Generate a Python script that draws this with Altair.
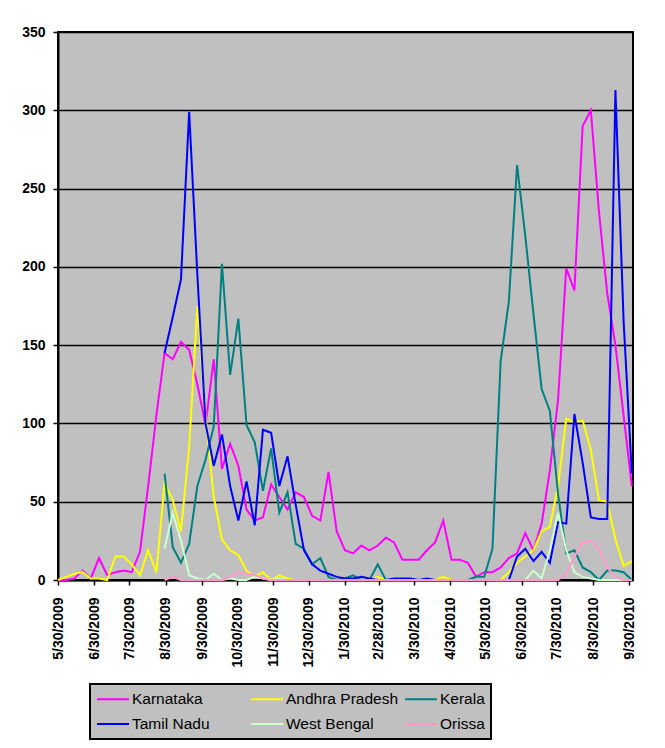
import altair as alt
import pandas as pd

# ---- data (weekly points) ----
START = "2009-05-30"
N_WEEKS = 71

STATES = ["Karnataka", "Andhra Pradesh", "Kerala", "Tamil Nadu", "West Bengal", "Orissa"]
COLORS = ["#FF00FF", "#FFFF00", "#008080", "#0000FF", "#CCFFCC", "#FF99CC"]

KARNATAKA = [0, 0, 1, 6, 1, 14, 3, 5, 6, 5,
             18, 60, 105, 145, 141, 152, 147, 125, 99, 141,
             71, 87, 73, 45, 38, 40, 61, 53, 45, 56,
             53, 41, 38, 69, 31, 19, 17, 22, 19, 22,
             27, 24, 13, 13, 13, 19, 24, 38, 13, 13,
             11, 2, 5, 5, 8, 14, 17, 30, 19, 36,
             70, 115, 199, 185, 290, 300, 235, 183, 150, 105,
             60]

ANDHRA = [0, 2, 4, 5, 1, 1, 0, 15, 15, 10,
          3, 19, 5, 62, 51, 31, 85, 175, 105, 53,
          26, 19, 16, 6, 2, 5, 0, 3, 1, 0,
          0, 0, 0, 0, 0, 0, 0, 0, 0, 2,
          0, 0, 0, 0, 0, 0, 0, 2, 0, 0,
          0, 0, 0, 0, 0, 5, 11, 15, 19, 31,
          34, 60, 103, 101, 102, 83, 51, 50, 26, 9,
          12]

KERALA = [None] * 13 + [
          68, 21, 11, 23, 60, 77, 98,
          202, 131, 167, 99, 88, 57, 84, 43, 56, 23,
          20, 10, 14, 2, 0, 1, 3, 0, 0, 10,
          0, 0, 0, 0, 0, 0, 0, 0, 0, 0,
          0, 2, 2, 20, 140, 178, 265, 220, 170, 122,
          108, 55, 17, 19, 8, 5, 0, 6, 6, 5,
          0]

TAMIL_NADU = [None] * 13 + [
          145, 168, 192, 299, 195, 100, 73,
          93, 60, 38, 63, 35, 96, 94, 60, 79, 48,
          19, 10, 6, 4, 2, 1, 1, 2, 1, 0,
          0, 1, 1, 1, 0, 1, 0, 0, 0, 0,
          0, 0, 0, 0, 0, 0, 15, 20, 12, 18,
          11, 37, 36, 106, 75, 40, 39, 39, 313, 165,
          68]

WEST_BENGAL = [None] * 13 + [
          20, 43, 25, 3, 1, 0, 4,
          0, 1, 0, 0, 2, 1, 0, 1, 0, 0,
          0, 0, 0, 0, 0, 0, 0, 0, 0, 0,
          0, 0, 0, 0, 0, 0, 0, 0, 0, 0,
          0, 0, 0, 0, 0, 0, 0, 0, 6, 1,
          19, 43, 19, 5, 2, 1, 0, 0, 0, 0,
          0]

ORISSA = [None] * 13 + [
          0, 2, 0, 0, 0, 0, 0,
          0, 2, 5, 4, 3, 1, 0, 0, 0, 0,
          0, 0, 0, 0, 0, 0, 0, 0, 0, 0,
          0, 0, 0, 0, 0, 0, 0, 0, 0, 0,
          0, 0, 0, 0, 0, 0, 0, 0, 0, 0,
          0, 0, 4, 15, 24, 25, 20, 8, 2, 0,
          0]

TICK_LABELS = ["5/30/2009", "6/30/2009", "7/30/2009", "8/30/2009", "9/30/2009",
               "10/30/2009", "11/30/2009", "12/30/2009", "1/30/2010", "2/28/2010",
               "3/30/2010", "4/30/2010", "5/30/2010", "6/30/2010", "7/30/2010",
               "8/30/2010", "9/30/2010"]
Y_TICKS = [0, 50, 100, 150, 200, 250, 300, 350]

# ---- build long table ----
SERIES = [KARNATAKA, ANDHRA, KERALA, TAMIL_NADU, WEST_BENGAL, ORISSA]
dates = pd.date_range(START, periods=N_WEEKS, freq="7D")
rows = []
for name, vals in zip(STATES, SERIES):
    for d, v in zip(dates, vals):
        if v is None:
            continue
        rows.append({"date": d.strftime("%Y/%m/%d"), "state": name, "cases": v})
df = pd.DataFrame(rows)


def to_dt(s):
    m, d, y = (int(p) for p in s.split("/"))
    return alt.DateTime(year=y, month=m, date=d)


tick_values = [to_dt(s) for s in TICK_LABELS]

FONT = "Liberation Sans"

chart = alt.Chart(df).mark_line(strokeWidth=2).encode(
    x=alt.X("date:T",
            scale=alt.Scale(domain=[alt.DateTime(year=2009, month=5, date=30),
                                    alt.DateTime(year=2010, month=10, date=3)]),
            axis=alt.Axis(values=tick_values, format="%-m/%-d/%Y", title=None,
                          labelAngle=270, labelFont=FONT, labelFontSize=14,
                          labelFontWeight="bold", labelColor="black",
                          labelPadding=12, labelOverlap=False,
                          tickColor="black", tickSize=5, tickWidth=1.5,
                          domainColor="black", domainWidth=2, grid=False)),
    y=alt.Y("cases:Q",
            scale=alt.Scale(domain=[0, 350], nice=False),
            axis=alt.Axis(values=Y_TICKS, title=None, labelFont=FONT,
                          labelFontSize=14, labelFontWeight="bold",
                          labelColor="black", labelPadding=8,
                          tickColor="black", tickSize=5, tickWidth=1.5,
                          domainColor="black", domainWidth=2,
                          grid=True, gridColor="black", gridWidth=1.6, gridOpacity=1)),
    color=alt.Color("state:N",
                    scale=alt.Scale(domain=STATES, range=COLORS),
                    legend=alt.Legend(title=None, orient="none", legendX=32, legendY=652,
                                      direction="horizontal", columns=3,
                                      symbolType="M-1,0H3", symbolSize=256,
                                      symbolStrokeWidth=2, labelFont=FONT,
                                      labelFontSize=15.5, labelColor="black",
                                      labelOffset=18, fillColor="#C0C0C0",
                                      strokeColor="black", padding=6,
                                      rowPadding=7, columnPadding=2,
                                      gridAlign="all")),
).properties(
    width=575, height=548,
    padding={"left": 50, "top": 24, "right": 10, "bottom": 160},
    autosize=alt.AutoSizeParams(type="none"),
).configure_view(
    fill="#C0C0C0", stroke="black", strokeWidth=2
)

try:
    chart.configure_legend(strokeWidth=2).save(
        "out.html", embed_options={"renderer": "svg", "actions": False})
except Exception:
    chart.save("out.html", embed_options={"renderer": "svg", "actions": False})
